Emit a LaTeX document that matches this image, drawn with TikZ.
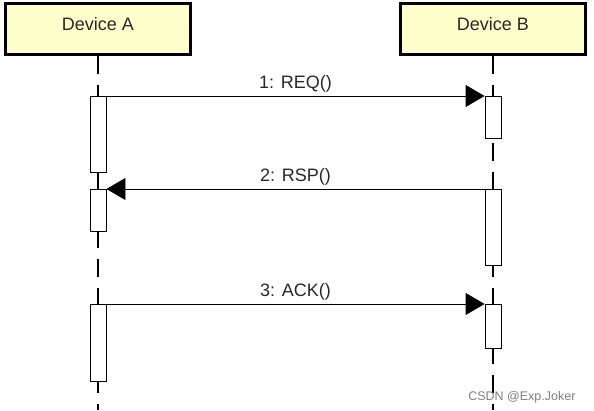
\documentclass[tikz,border=0pt]{standalone}
\usepackage{fontspec}
\setmainfont{Liberation Sans}
\usetikzlibrary{arrows.meta, positioning}
\definecolor{devfill}{RGB}{255,255,204}
\definecolor{inkgray}{RGB}{40,40,40}

\tikzset{
  device/.style={draw, line width=3pt, fill=devfill, minimum width=185pt,
    inner sep=0pt, text height=27pt, text depth=24pt, text=inkgray,
    font=\fontsize{18}{20}\selectfont},
  lifeline/.style={line width=1.2pt, dash pattern=on 18pt off 11pt},
  activation/.style={draw, line width=0.9pt, fill=white, minimum width=16pt,
    inner sep=0pt, anchor=north},
  msg/.style={line width=0.9pt, -{Triangle[length=19pt,width=22pt]}},
  msglabel/.style={midway, above, inner sep=3pt, text=inkgray,
    font=\fontsize{18}{20}\selectfont}
}

\begin{document}
\begin{tikzpicture}[x=1pt,y=-1pt]
\useasboundingbox (0,0) rectangle (594,410);
\def\xA{98}
\def\xB{493}

\node[device] (devA) at (\xA,29) {Device A};
\node[device] (devB) at (\xB,29) {Device B};

\coordinate (endA) at (\xA,410);
\coordinate (endB) at (\xB,410);
\draw[lifeline] (devA.south) -- (endA);
\draw[lifeline] (devB.south) -- (endB);

\node[activation, minimum height=76pt] (actA1) at (\xA,96) {};
\node[activation, minimum height=42pt] (actA2) at (\xA,189) {};
\node[activation, minimum height=77pt] (actA3) at (\xA,304) {};
\node[activation, minimum height=42pt] (actB1) at (\xB,96) {};
\node[activation, minimum height=76pt] (actB2) at (\xB,189) {};
\node[activation, minimum height=44pt] (actB3) at (\xB,304) {};

\draw[msg] (actA1.north east) -- (actB1.north west) node[msglabel] {1: REQ()};
\draw[msg] (actB2.north west) -- (actA2.north east) node[msglabel] {2: RSP()};
\draw[msg] (actA3.north east) -- (actB3.north west) node[msglabel] {3: ACK()};

\node[anchor=base east, text=gray, font=\fontsize{12.5}{14}\selectfont]
  (mark) at (579,400) {CSDN @Exp.Joker};
\end{tikzpicture}
\end{document}
